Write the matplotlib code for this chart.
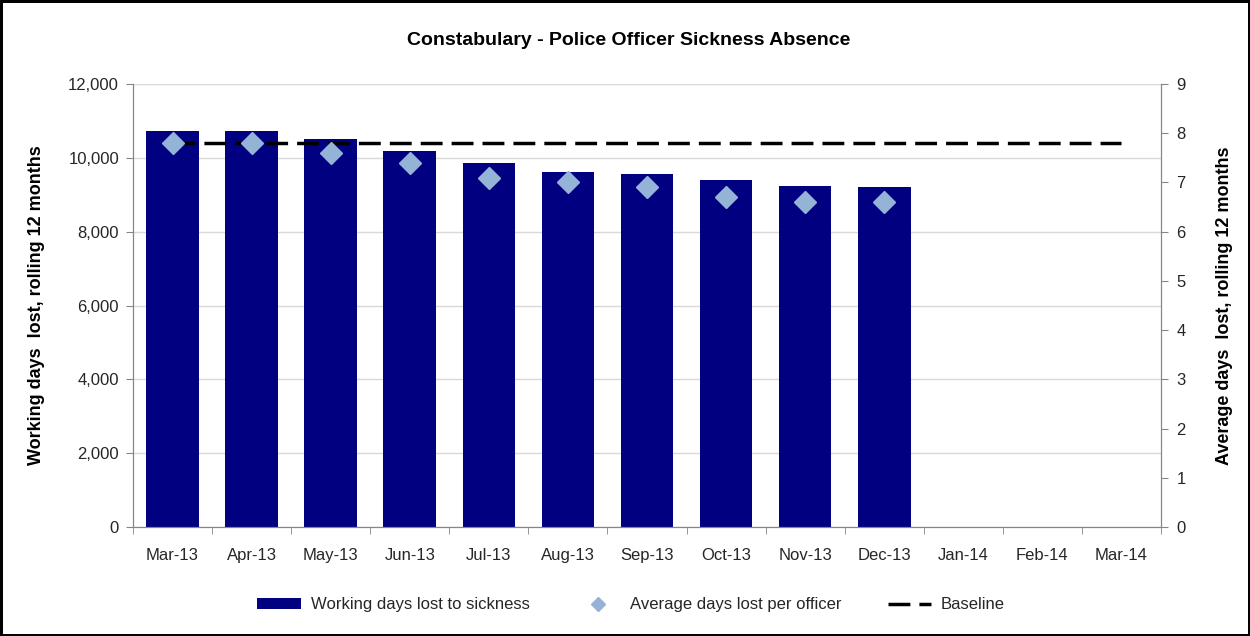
import matplotlib.pyplot as plt
import numpy as np
from matplotlib.ticker import FuncFormatter, MultipleLocator

plt.rcParams['font.family'] = ['Liberation Sans', 'DejaVu Sans']

months = ['Mar-13', 'Apr-13', 'May-13', 'Jun-13', 'Jul-13', 'Aug-13', 'Sep-13',
          'Oct-13', 'Nov-13', 'Dec-13', 'Jan-14', 'Feb-14', 'Mar-14']
days_lost = [10715, 10715, 10500, 10175, 9850, 9620, 9570, 9400, 9250, 9200]
avg_per_officer = [7.8, 7.8, 7.6, 7.4, 7.1, 7.0, 6.9, 6.7, 6.6, 6.6]
baseline = 7.8

x = np.arange(len(months))
nd = len(days_lost)

fig = plt.figure(figsize=(12.5, 6.36), dpi=100)
fig.patch.set_edgecolor('black')
fig.patch.set_linewidth(2.5)
ax = fig.add_axes([0.1064, 0.1714, 0.8224, 0.6965])
ax2 = ax.twinx()

ax.bar(x[:nd], days_lost, width=0.666, color='#000080', zorder=2,
       label='Working days lost to sickness')
ax.set_xlim(-0.5, len(months) - 0.5)
ax.set_ylim(0, 12000)
ax.yaxis.set_major_locator(MultipleLocator(2000))
ax.yaxis.set_major_formatter(FuncFormatter(lambda v, p: f'{int(v):,}'))
ax.grid(axis='y', color='#d9d9d9', linewidth=1, zorder=0)
ax.set_axisbelow(True)

ax2.plot(x[:nd], avg_per_officer, linestyle='none', marker='D', markersize=11,
         color='#95b3d7', zorder=4, label='Average days lost per officer')
ax2.plot(x, [baseline] * len(x), color='black', linestyle=(0, (6.3, 2.6)),
         linewidth=2.5, zorder=3, label='Baseline')
ax2.set_ylim(0, 9)
ax2.yaxis.set_major_locator(MultipleLocator(1))

ax.set_xticks(x)
ax.set_xticklabels(months)
ax.set_xticks(np.arange(-0.5, len(months), 1), minor=True)
ax.tick_params(axis='x', which='major', length=0, pad=15)
ax.tick_params(axis='x', which='minor', length=5, color='#868686')

for a in (ax, ax2):
    a.spines['top'].set_visible(False)
    for s in ('left', 'right', 'bottom'):
        a.spines[s].set_color('#868686')
    a.tick_params(axis='y', length=5, color='#868686', labelsize=12, colors='#262626')
    a.tick_params(axis='x', labelsize=12, labelcolor='#262626')
ax.tick_params(axis='y', pad=5)
ax2.tick_params(axis='y', pad=6)

ax.set_ylabel('Working days  lost, rolling 12 months', fontsize=13,
              fontweight='bold', labelpad=17)
ax2.set_ylabel('Average days  lost, rolling 12 months', fontsize=13,
               fontweight='bold', labelpad=22)

fig.text(0.503, 0.937, 'Constabulary - Police Officer Sickness Absence',
         ha='center', va='center', fontsize=14, fontweight='bold')

h1, l1 = ax.get_legend_handles_labels()
h2, l2 = ax2.get_legend_handles_labels()
leg = fig.legend(h1 + h2, l1 + l2, loc='center', bbox_to_anchor=(0.505, 0.049),
                 ncol=3, frameon=False, fontsize=12, handlelength=2.6,
                 handleheight=0.6, markerscale=0.65,
                 columnspacing=2.8, handletextpad=0.6)
for t in leg.get_texts():
    t.set_color('#262626')

fig.savefig('out.png', dpi=100)
